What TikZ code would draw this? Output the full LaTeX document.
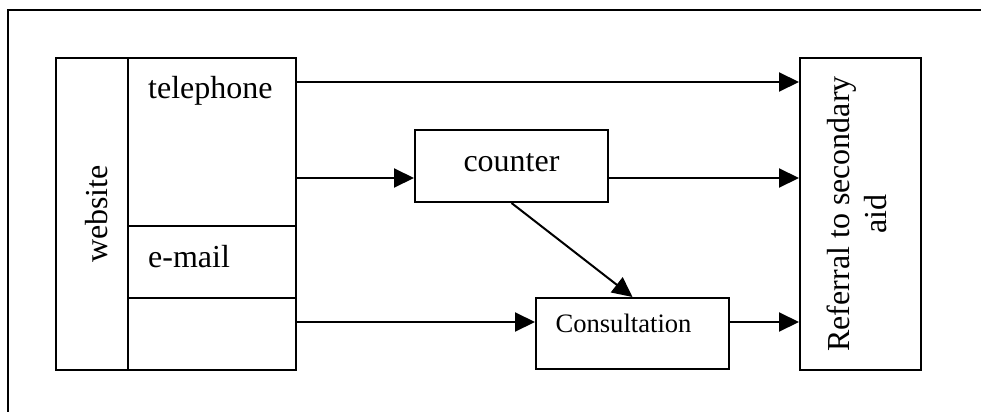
\documentclass[tikz,border=0pt]{standalone}
\usepackage{fontspec}
\setmainfont{Liberation Serif}
\usetikzlibrary{arrows.meta}
\tikzset{
  box/.style={draw, line width=2pt, rectangle, inner sep=0pt, minimum width=#1},
  lbl/.style={font=\fontsize{32}{37}\selectfont, inner sep=0pt},
  small/.style={font=\fontsize{26.6}{31}\selectfont, inner sep=0pt},
  arr/.style={line width=2pt, -{Triangle[length=20pt,width=19pt]}},
}
\begin{document}
\begin{tikzpicture}[x=1pt, y=-1pt]
\useasboundingbox (0,0) rectangle (981,412);
% frame lines
\draw[line width=2pt] (981,10) -- (8,10) -- (8,412);

% left block: website column and the three channel cells
\node[box=72pt, minimum height=312pt] (web) at (92,214) {};
\node[box=168pt, minimum height=168pt] (tel) at (212,142) {};
\node[box=168pt, minimum height=72pt] (mail) at (212,262) {};
\node[box=168pt, minimum height=72pt] (blank) at (212,334) {};
\node[lbl, rotate=90] (webtxt) at (97,214) {website};
\node[lbl, anchor=base west] (teltxt) at (148,98) {telephone};
\node[lbl, anchor=base west] (mailtxt) at (148,267) {e-mail};

% middle boxes
\node[box=193pt, minimum height=72pt] (counter) at (511.5,166) {};
\node[lbl, anchor=base] (countertxt) at (511.5,171) {counter};
\node[box=193pt, minimum height=71pt] (consult) at (632.5,333.5) {};
\node[small, anchor=base] (consulttxt) at (623.5,332) {Consultation};

% right box
\node[box=121pt, minimum height=312pt] (ref) at (860.5,214) {};
\node[lbl, rotate=90, align=center] (reftxt) at (857,214) {Referral to secondary\\aid};

% connectors
\draw[arr] (tel.east |- 0,82) -- (ref.west |- 0,82);
\draw[arr] (tel.east |- 0,178) -- (counter.west |- 0,178);
\draw[arr] (counter.east |- 0,178) -- (ref.west |- 0,178);
\draw[arr] (counter.south) -- (consult.north);
\draw[arr] (blank.east |- 0,322) -- (consult.west |- 0,322);
\draw[arr] (consult.east |- 0,322) -- (ref.west |- 0,322);
\end{tikzpicture}
\end{document}
